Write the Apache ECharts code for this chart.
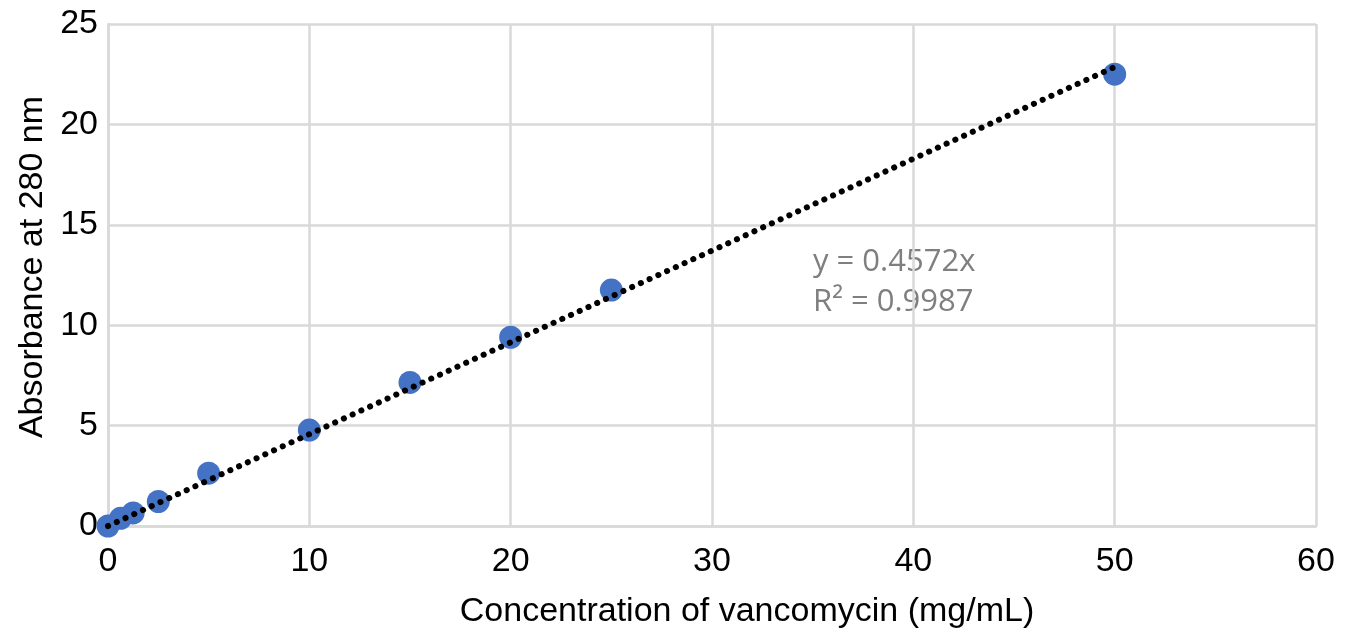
<!DOCTYPE html>
<html>
<head>
<meta charset="utf-8">
<script src="https://cdn.jsdelivr.net/npm/echarts@6/dist/echarts.min.js"></script>
<style>
  html, body { margin: 0; padding: 0; background: #fff; }
  #chart { width: 1347px; height: 639px; }
</style>
</head>
<body>
<div id="chart"></div>
<script>
// Calibration standards: vancomycin concentration (mg/mL) vs absorbance at 280 nm
const concentration = [0, 0.625, 1.25, 2.5, 5, 10, 15, 20, 25, 50];
const absorbance    = [0, 0.38, 0.65, 1.22, 2.63, 4.78, 7.15, 9.4, 11.75, 22.5];

// Linear fit through the origin
const slope = 0.4572;
const rSquared = 0.9987;
const fitRange = [0, 50];

const xTicks = { min: 0, max: 60, interval: 10 };
const yTicks = { min: 0, max: 25, interval: 5 };

const chart = echarts.init(document.getElementById('chart'));

const gridLine = { show: true, lineStyle: { color: '#d9d9d9', width: 2.5 } };
const axisFont = { fontFamily: 'Liberation Sans, Arial, sans-serif', fontSize: 34, color: '#000' };

chart.setOption({
  animation: false,
  backgroundColor: '#fff',
  grid: { left: 108, right: 31, top: 24, bottom: 113 },
  xAxis: {
    type: 'value',
    min: xTicks.min, max: xTicks.max, interval: xTicks.interval,
    axisLine: { show: true, lineStyle: { color: '#d9d9d9', width: 2.5 } },
    axisTick: { show: false },
    splitLine: gridLine,
    axisLabel: Object.assign({ margin: 19 }, axisFont),
    name: 'Concentration of vancomycin (mg/mL)',
    nameLocation: 'middle',
    nameGap: 69,
    nameTextStyle: Object.assign({ padding: [0, 0, 0, 70] }, axisFont)
  },
  yAxis: {
    type: 'value',
    min: yTicks.min, max: yTicks.max, interval: yTicks.interval,
    axisLine: { show: true, lineStyle: { color: '#d9d9d9', width: 2.5 } },
    axisTick: { show: false },
    splitLine: gridLine,
    axisLabel: Object.assign({ margin: 10 }, axisFont),
    name: 'Absorbance at 280 nm',
    nameLocation: 'middle',
    nameGap: 56,
    nameTextStyle: Object.assign({ padding: [0, 0, 0, 16] }, axisFont)
  },
  series: [
    {
      name: 'Standards',
      type: 'scatter',
      symbol: 'circle',
      symbolSize: 23,
      itemStyle: { color: '#4472c4', opacity: 1 },
      data: concentration.map((c, i) => [c, absorbance[i]]),
      z: 2
    },
    {
      name: 'Linear fit',
      type: 'line',
      symbol: 'none',
      lineStyle: { color: '#000', width: 6, type: [0.1, 9.5], cap: 'round' },
      data: fitRange.map(x => [x, slope * x]),
      z: 3
    }
  ],
  graphic: [
    {
      type: 'text',
      left: 813, top: 242,
      style: {
        text: 'y = ' + slope.toFixed(4) + 'x\nR² = ' + rSquared.toFixed(4),
        fontFamily: 'Open Sans, Noto Sans, sans-serif',
        fontSize: 31,
        lineHeight: 40,
        fill: '#7f7f7f'
      }
    }
  ]
});
</script>
</body>
</html>
